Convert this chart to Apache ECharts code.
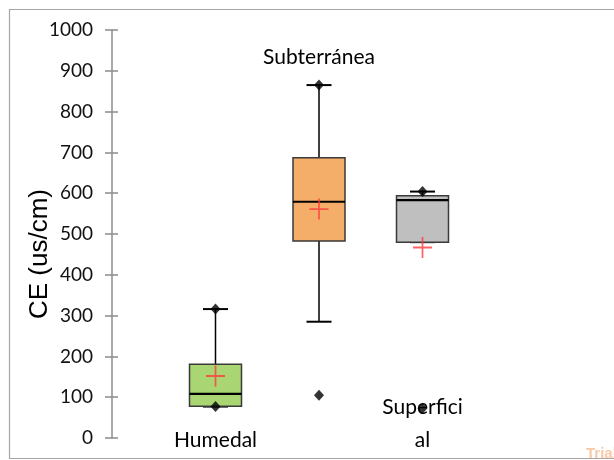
<!DOCTYPE html>
<html>
<head>
<meta charset="utf-8">
<script src="https://cdn.jsdelivr.net/npm/echarts@6/dist/echarts.min.js"></script>
<style>
html,body{margin:0;padding:0;background:#fff;}
#chart{width:614px;height:460px;}
</style>
</head>
<body>
<div id="chart"></div>
<script>
const categories = ['Humedal', 'Subterránea', 'Superficial'];
const categoryLabels = ['Humedal', 'Subterránea', 'Superfici\nal'];
const lowerWhisker = [77, 285, 480];
const q1 = [78, 483, 480];
const median = [108, 579, 583];
const q3 = [181, 687, 594];
const upperWhisker = [316, 865, 604];
const means = [152, 561, 467];
const minimum = [77, 105, 73];
const maximum = [316, 865, 604];
const boxColors = ['#a9d673', '#f4ae6a', '#bfbfbf'];
const yTicks = [0, 100, 200, 300, 400, 500, 600, 700, 800, 900, 1000];

const chart = echarts.init(document.getElementById('chart'), null, {renderer: 'canvas'});

const boxData = categories.map((c, i) => [i + 1, lowerWhisker[i], q1[i], median[i], q3[i], upperWhisker[i], i]);
const extremeData = [];
categories.forEach((c, i) => { extremeData.push([i + 1, minimum[i]]); extremeData.push([i + 1, maximum[i]]); });
const meanData = categories.map((c, i) => [i + 1, means[i]]);

function renderBox(params, api) {
  const x = api.value(0);
  const pLo = api.coord([x, api.value(1)]);
  const pQ1 = api.coord([x, api.value(2)]);
  const pMed = api.coord([x, api.value(3)]);
  const pQ3 = api.coord([x, api.value(4)]);
  const pHi = api.coord([x, api.value(5)]);
  const idx = api.value(6);
  const hw = 26, cw = 12.5;
  const cx = pQ1[0];
  const line = (x1, y1, x2, y2, w, col) => ({type: 'line', shape: {x1, y1, x2, y2}, style: {stroke: col || '#000', lineWidth: w}});
  return {
    type: 'group',
    children: [
      line(cx, pHi[1], cx, pQ3[1], 1.5),
      line(cx, pQ1[1], cx, pLo[1], 1.5),
      line(cx - cw, pHi[1], cx + cw, pHi[1], 2),
      line(cx - cw, pLo[1], cx + cw, pLo[1], 2),
      {type: 'rect', shape: {x: cx - hw, y: pQ3[1], width: hw * 2, height: pQ1[1] - pQ3[1]},
       style: {fill: boxColors[idx], stroke: '#3a3a3a', lineWidth: 1.5}},
      line(cx - hw, pMed[1], cx + hw, pMed[1], 2.2)
    ]
  };
}

const option = {
  animation: false,
  backgroundColor: '#fff',
  grid: {left: 112, right: 88, top: 30, bottom: 22},
  xAxis: {type: 'value', min: 0, max: 4, show: false},
  yAxis: [
    {type: 'value', min: 0, max: 1000, interval: 100,
     axisLine: {show: true, lineStyle: {color: '#8c8c8c', width: 1.5}},
     axisTick: {show: true, length: 7, lineStyle: {color: '#8c8c8c', width: 1.5}},
     axisLabel: {color: '#111', fontFamily: 'Lato', fontSize: 19, margin: 19,
                 formatter: v => yTicks.includes(v) ? String(v) : ''},
     splitLine: {show: false}},
    {type: 'value', min: 0, max: 1000, interval: 100, position: 'left', offset: -6,
     axisLine: {show: false},
     axisTick: {show: true, length: 6, lineStyle: {color: '#8c8c8c', width: 1.5}},
     axisLabel: {show: false}, splitLine: {show: false}}
  ],
  series: [
    {type: 'custom', renderItem: renderBox, data: boxData, encode: {x: 0, y: [1, 2, 3, 4, 5]}, z: 2},
    {type: 'scatter', data: extremeData, symbol: 'diamond', symbolSize: [10, 11],
     itemStyle: {color: '#000'}, z: 4},
    {type: 'scatter', data: meanData, symbol: 'path://M0,10L20,10M10,0L10,20', symbolSize: [19, 21],
     itemStyle: {color: 'none', borderColor: '#ff3b3b', borderWidth: 1.8}, z: 5}
  ],
  graphic: []
};
chart.setOption(option);

const graphics = [
  {type: 'rect', shape: {x: 9.5, y: 9.5, width: 640, height: 449}, style: {fill: 'none', stroke: '#a6a6a6', lineWidth: 1.2}, z: 0, silent: true},
  {type: 'text', x: 40, y: 254, rotation: Math.PI / 2,
   style: {text: 'CE (us/cm)', font: '26px "Liberation Sans", Arial, sans-serif', fill: '#000', align: 'center', verticalAlign: 'middle'}},
  {type: 'text', x: 586, y: 461, style: {text: 'Trial', font: 'bold 15px "Liberation Sans", Arial, sans-serif', fill: '#f9c8a6', align: 'left', verticalAlign: 'bottom'}}
];
const labelY = [457, 74, 457];
categories.forEach((c, i) => {
  const px = chart.convertToPixel({xAxisIndex: 0, yAxisIndex: 0}, [i + 1, 0])[0];
  graphics.push({type: 'text', x: px, y: labelY[i], z: 10,
    style: {text: categoryLabels[i], font: '21px Lato, "Liberation Sans", sans-serif', fill: '#000',
            align: 'center', verticalAlign: 'bottom', lineHeight: 33}});
});
chart.setOption({graphic: graphics});
</script>
</body>
</html>
